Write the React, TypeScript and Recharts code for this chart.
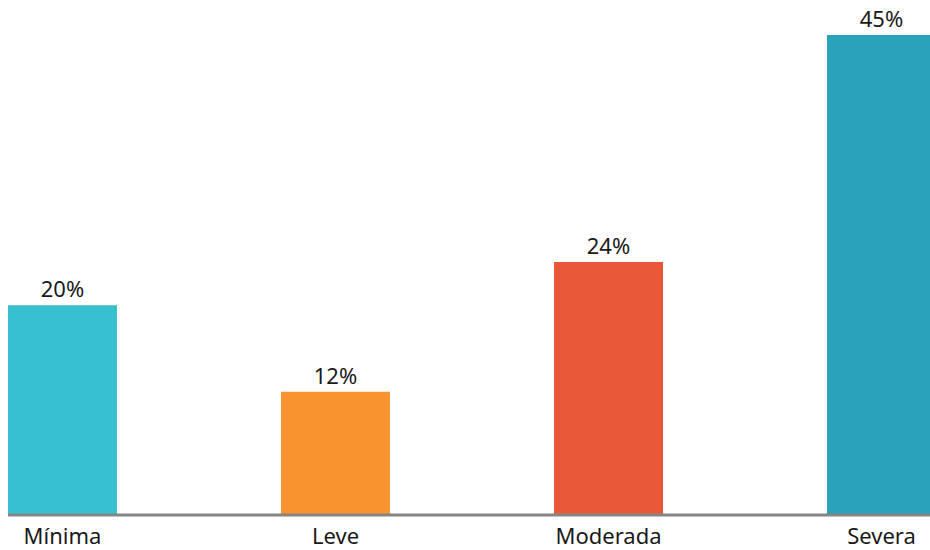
import { BarChart, Bar, XAxis, YAxis, Cell, LabelList } from "recharts";

const categories = ["Mínima", "Leve", "Moderada", "Severa"];
const values = [20, 12, 24, 45];
const colors = ["#36C0D0", "#F79430", "#E85839", "#2AA3BA"];

const data = categories.map((name, i) => ({ name, value: values[i] }));

const FONT = "'Noto Sans', sans-serif";

export default function App() {
  return (
    <div style={{ position: "absolute", left: 0, top: 0, width: 930, height: 550, background: "#fff" }}>
      <BarChart width={930} height={550} data={data} margin={{ top: 35, right: 0, bottom: 0, left: 8 }}>
        <XAxis
          dataKey="name"
          height={35}
          padding={{ left: -82, right: -88 }}
          axisLine={{ stroke: "#858585", strokeWidth: 3 }}
          tickLine={false}
          tick={{ fill: "#1a1a1a", fontSize: 22, fontFamily: FONT }}
          tickMargin={7}
          interval={0}
        />
        <YAxis hide domain={[0.6, 45]} />
        <Bar dataKey="value" barSize={109} isAnimationActive={false}>
          {data.map((_, i) => (
            <Cell key={i} fill={colors[i]} />
          ))}
          <LabelList
            dataKey="value"
            position="top"
            offset={8}
            formatter={(v: unknown) => `${v}%`}
            fill="#1a1a1a"
            fontSize={22}
            fontFamily={FONT}
          />
        </Bar>
      </BarChart>
    </div>
  );
}
